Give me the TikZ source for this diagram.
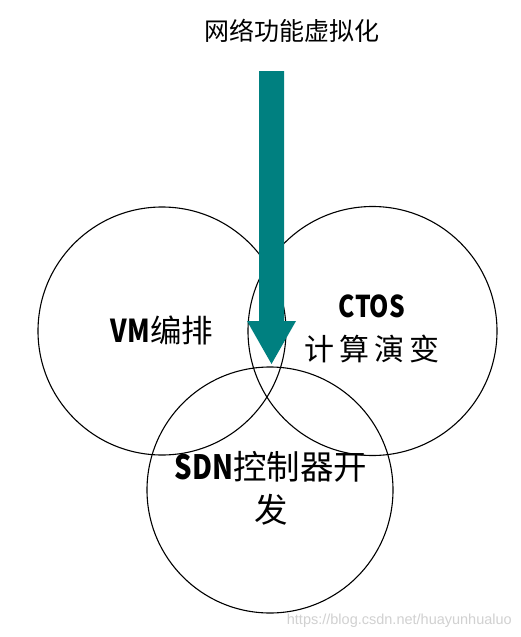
\documentclass[tikz,border=0pt]{standalone}
\usepackage{fontspec}
\newfontfamily\cjk{Noto Sans CJK SC}
\newfontfamily\cjknarrow[FakeStretch=0.82]{Noto Sans CJK SC}
\newfontfamily\wmfont{Liberation Sans}
\definecolor{teal1}{RGB}{0,128,128}
\begin{document}
\begin{tikzpicture}[x=1pt,y=-1pt,
  ring/.style={circle,draw=black,line width=1.1pt,minimum size=#1,inner sep=0pt},
  label1/.style={inner sep=0pt,font=\cjk\fontsize{#1}{43}\selectfont,align=center},
  title1/.style={inner sep=0pt,font=\cjk\fontsize{25}{30}\selectfont},
  wm/.style={inner sep=0pt,font=\wmfont\fontsize{14.5}{16}\selectfont,text=black!18}]
\useasboundingbox (0,0) rectangle (521,637);
\fill[white] (0,0) rectangle (521,637);
\node[ring=248pt] (vm) at (162,331) {};
\node[ring=249pt] (ctos) at (372.5,331) {};
\node[ring=246pt] (sdn) at (270,490) {};
\fill[teal1] (259,71) -- (284,71) -- (284,321) -- (296,321) -- (271.5,364) -- (247,321) -- (259,321) -- cycle;
\node[title1] (title) at (292,31) {网络功能虚拟化};
\node[label1=31.5] (tvm) at (162,330) {{\cjknarrow\bfseries VM}编排};
\node[label1=30] (tctos) at (372,329) {{\cjknarrow\bfseries CTOS}\\计\,算\,演\,变};
\node[label1=33.5] (tsdn) at (271,488) {{\cjknarrow\bfseries SDN}控制器开\\发};
\node[wm,anchor=east] (wmark) at (512,621) {https://blog.csdn.net/huayunhualuo};
\end{tikzpicture}
\end{document}
